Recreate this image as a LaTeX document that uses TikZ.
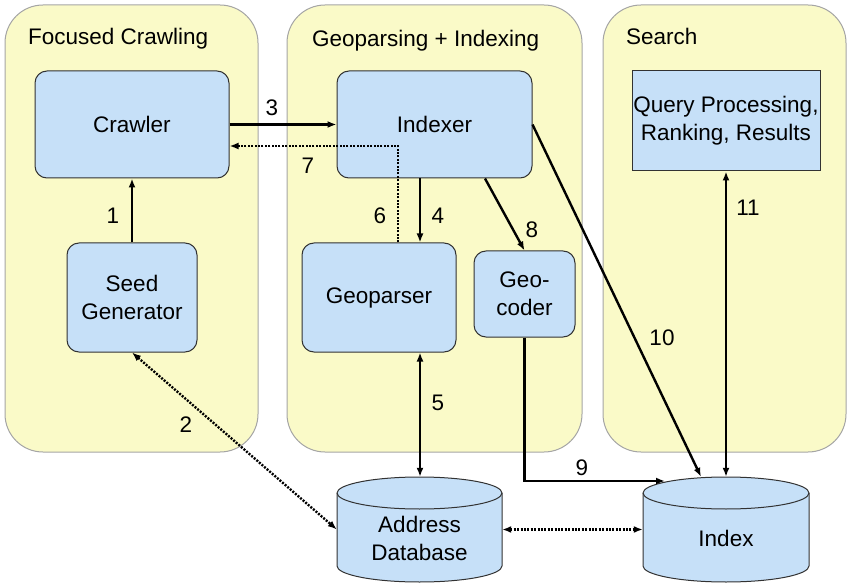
\documentclass[tikz,border=0pt]{standalone}
\usepackage{fontspec}
\setmainfont{Liberation Sans}
\usetikzlibrary{arrows.meta}

\begin{document}
\begin{tikzpicture}[x=1pt,y=1pt,yscale=-1,xscale=1,
  every node/.style={font=\fontsize{22.5}{28}\selectfont, inner sep=0pt},
  panel/.style={draw={rgb, 255:red, 165; green, 165; blue, 165}, fill={rgb, 255:red, 250; green, 250; blue, 200}, rounded corners=38pt, line width=1pt},
  blockbox/.style={draw={rgb, 255:red, 50; green, 50; blue, 50}, fill={rgb, 255:red, 198; green, 224; blue, 248}, rounded corners=12pt, line width=1pt, align=center},
  dbshape/.style={draw={rgb, 255:red, 50; green, 50; blue, 50}, fill={rgb, 255:red, 198; green, 224; blue, 248}, line width=1pt},
  arr/.style={line width=2.4pt, -{Latex[length=9pt,width=7pt]}},
  dblarr/.style={line width=2.4pt, {Latex[length=9pt,width=7pt]}-{Latex[length=9pt,width=7pt]}},
  dotarr/.style={arr, dash pattern={on 2pt off 1.4pt}},
  dotdbl/.style={dblarr, dash pattern={on 2pt off 1.4pt}}]
\useasboundingbox (0,0) rectangle (847,583);

%Shape: Panels
\draw[panel] (5,5) rectangle (258,452);
\draw[panel] (287,5) rectangle (582,452);
\draw[panel] (603,5) rectangle (846,452);

% Panel titles
\node[anchor=base west] (tcrawl) at (28,45) {Focused Crawling};
\node[anchor=base west] (tgeo) at (312,47) {Geoparsing + Indexing};
\node[anchor=base west] (tsearch) at (626,45) {Search};

% Blocks
\node[blockbox, minimum width=194pt, minimum height=107pt] (crawler) at (132,124.5) {Crawler};
\node[blockbox, minimum width=130pt, minimum height=109pt] (seed) at (132,297.5) {Seed\\Generator};
\node[blockbox, minimum width=195pt, minimum height=107pt] (indexer) at (434.5,124.5) {Indexer};
\node[blockbox, minimum width=154pt, minimum height=109pt] (geoparser) at (379,297.5) {Geoparser};
\node[blockbox, minimum width=101pt, minimum height=86pt] (geocoder) at (524.5,294) {Geo-\\coder};
\node[blockbox, sharp corners, minimum width=188pt, minimum height=100pt] (query) at (726,121) {Query Processing,\\Ranking, Results};

%Shape: Cylinders
\draw[dbshape] (337,493) -- (337,566) arc[start angle=180, end angle=0, x radius=82.5, y radius=16] -- (502,493) arc[start angle=0, end angle=-180, x radius=82.5, y radius=16] -- cycle;
\draw[dbshape, fill=none] (337,493) arc[start angle=180, end angle=0, x radius=82.5, y radius=16];
\draw[dbshape] (643,493) -- (643,566) arc[start angle=180, end angle=0, x radius=83, y radius=16] -- (809,493) arc[start angle=0, end angle=-180, x radius=83, y radius=16] -- cycle;
\draw[dbshape, fill=none] (643,493) arc[start angle=180, end angle=0, x radius=83, y radius=16];

\node[minimum width=165pt, minimum height=105pt] (adb) at (419.5,529.5) {};
\node[align=center] (adbtext) at (419.5,538) {Address\\Database};
\node[minimum width=166pt, minimum height=105pt] (index) at (726,529.5) {};
\node (indextext) at (726,538) {Index};

% Bend points
\coordinate (c7) at (398,146);
\coordinate (c4) at (420,0);
\coordinate (c8) at (485,0);
\coordinate (c10) at (701,0);
\coordinate (c9) at (665,481);

% Connectors
\draw[arr] (seed) -- (crawler);
\draw[dotdbl] (seed.south) -- (adb.west);
\draw[arr] (crawler) -- (indexer);
\draw[arr] (indexer.south -| c4) -- (geoparser.north -| c4);
\draw[dblarr] (geoparser.south -| c4) -- (adb.north -| c4);
\draw[dotarr] (geoparser.north -| c7) |- (crawler.east |- c7);
\draw[arr] (indexer.south -| c8) -- (geocoder.north);
\draw[arr] (geocoder.south) |- (c9);
\draw[arr] (indexer.east) -- (index.north -| c10);
\draw[dblarr] (query) -- (index);
\draw[dotdbl] (adb) -- (index);

% Text Node
\node (l1) at (113,216) {1};
\node (l2) at (186,425) {2};
\node (l3) at (272,108) {3};
\node (l4) at (438,216) {4};
\node (l5) at (438,403) {5};
\node (l6) at (380,216) {6};
\node (l7) at (308,166) {7};
\node (l8) at (532,230) {8};
\node (l9) at (582,468) {9};
\node (l10) at (662,338) {10};
\node (l11) at (748,208) {11};

\end{tikzpicture}
\end{document}
